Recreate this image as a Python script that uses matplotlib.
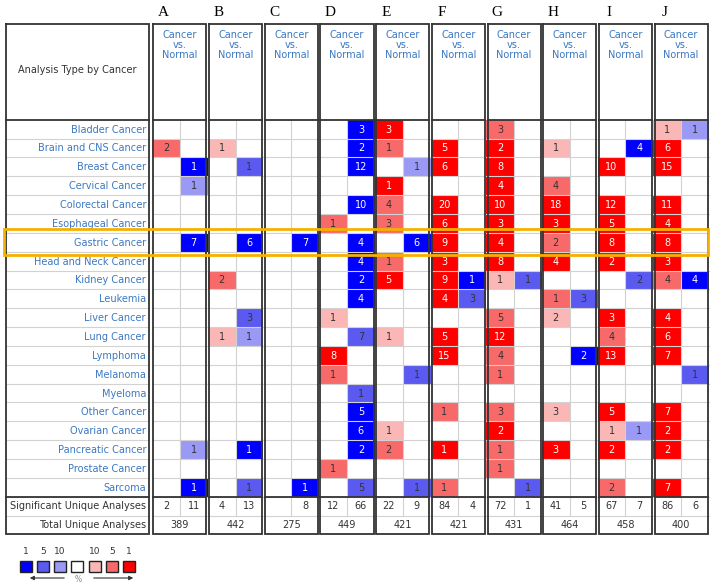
import matplotlib
matplotlib.use("Agg")
import matplotlib.pyplot as plt
from matplotlib.patches import Rectangle, FancyArrowPatch

groups = ["A", "B", "C", "D", "E", "F", "G", "H", "I", "J"]
cancers = ["Bladder Cancer", "Brain and CNS Cancer", "Breast Cancer", "Cervical Cancer",
           "Colorectal Cancer", "Esophageal Cancer", "Gastric Cancer", "Head and Neck Cancer",
           "Kidney Cancer", "Leukemia", "Liver Cancer", "Lung Cancer", "Lymphoma", "Melanoma",
           "Myeloma", "Other Cancer", "Ovarian Cancer", "Pancreatic Cancer", "Prostate Cancer",
           "Sarcoma"]

# over-expression (red) counts per cancer row, columns A..J (0 = no analysis)
up_counts = [
    [0, 0, 0, 0, 3, 0, 3, 0, 0, 1],
    [2, 1, 0, 0, 1, 5, 2, 1, 0, 6],
    [0, 0, 0, 0, 0, 6, 8, 0, 10, 15],
    [0, 0, 0, 0, 1, 0, 4, 4, 0, 0],
    [0, 0, 0, 0, 4, 20, 10, 18, 12, 11],
    [0, 0, 0, 1, 3, 6, 3, 3, 5, 4],
    [0, 0, 0, 0, 0, 9, 4, 2, 8, 8],
    [0, 0, 0, 0, 1, 3, 8, 4, 2, 3],
    [0, 2, 0, 0, 5, 9, 1, 0, 0, 4],
    [0, 0, 0, 0, 0, 4, 0, 1, 0, 0],
    [0, 0, 0, 1, 0, 0, 5, 2, 3, 4],
    [0, 1, 0, 0, 1, 5, 12, 0, 4, 6],
    [0, 0, 0, 8, 0, 15, 4, 0, 13, 7],
    [0, 0, 0, 1, 0, 0, 1, 0, 0, 0],
    [0, 0, 0, 0, 0, 0, 0, 0, 0, 0],
    [0, 0, 0, 0, 0, 1, 3, 3, 5, 7],
    [0, 0, 0, 0, 1, 0, 2, 0, 1, 2],
    [0, 0, 0, 0, 2, 1, 1, 3, 2, 2],
    [0, 0, 0, 1, 0, 0, 1, 0, 0, 0],
    [0, 0, 0, 0, 0, 1, 0, 0, 2, 7],
]
# gene rank percentile level of each red cell (1, 5, 10)
up_levels = [
    [0, 0, 0, 0, 1, 0, 5, 0, 0, 10],
    [5, 10, 0, 0, 5, 1, 1, 10, 0, 1],
    [0, 0, 0, 0, 0, 1, 1, 0, 1, 1],
    [0, 0, 0, 0, 1, 0, 1, 5, 0, 0],
    [0, 0, 0, 0, 5, 1, 1, 1, 1, 1],
    [0, 0, 0, 5, 5, 1, 1, 1, 1, 1],
    [0, 0, 0, 0, 0, 1, 1, 5, 1, 1],
    [0, 0, 0, 0, 5, 1, 1, 1, 1, 1],
    [0, 5, 0, 0, 1, 1, 10, 0, 0, 5],
    [0, 0, 0, 0, 0, 1, 0, 5, 0, 0],
    [0, 0, 0, 10, 0, 0, 5, 10, 1, 1],
    [0, 10, 0, 0, 10, 1, 1, 0, 5, 1],
    [0, 0, 0, 1, 0, 1, 5, 0, 1, 1],
    [0, 0, 0, 5, 0, 0, 5, 0, 0, 0],
    [0, 0, 0, 0, 0, 0, 0, 0, 0, 0],
    [0, 0, 0, 0, 0, 5, 5, 10, 1, 1],
    [0, 0, 0, 0, 10, 0, 1, 0, 10, 1],
    [0, 0, 0, 0, 5, 1, 5, 1, 1, 1],
    [0, 0, 0, 5, 0, 0, 5, 0, 0, 0],
    [0, 0, 0, 0, 0, 5, 0, 0, 5, 1],
]
# under-expression (blue) counts
down_counts = [
    [0, 0, 0, 3, 0, 0, 0, 0, 0, 1],
    [0, 0, 0, 2, 0, 0, 0, 0, 4, 0],
    [1, 1, 0, 12, 1, 0, 0, 0, 0, 0],
    [1, 0, 0, 0, 0, 0, 0, 0, 0, 0],
    [0, 0, 0, 10, 0, 0, 0, 0, 0, 0],
    [0, 0, 0, 0, 0, 0, 0, 0, 0, 0],
    [7, 6, 7, 4, 6, 0, 0, 0, 0, 0],
    [0, 0, 0, 4, 0, 0, 0, 0, 0, 0],
    [0, 0, 0, 2, 0, 1, 1, 0, 2, 4],
    [0, 0, 0, 4, 0, 3, 0, 3, 0, 0],
    [0, 3, 0, 0, 0, 0, 0, 0, 0, 0],
    [0, 1, 0, 7, 0, 0, 0, 0, 0, 0],
    [0, 0, 0, 0, 0, 0, 0, 2, 0, 0],
    [0, 0, 0, 0, 1, 0, 0, 0, 0, 1],
    [0, 0, 0, 1, 0, 0, 0, 0, 0, 0],
    [0, 0, 0, 5, 0, 0, 0, 0, 0, 0],
    [0, 0, 0, 6, 0, 0, 0, 0, 1, 0],
    [1, 1, 0, 2, 0, 0, 0, 0, 0, 0],
    [0, 0, 0, 0, 0, 0, 0, 0, 0, 0],
    [1, 1, 1, 5, 1, 0, 1, 0, 0, 0],
]
down_levels = [
    [0, 0, 0, 1, 0, 0, 0, 0, 0, 10],
    [0, 0, 0, 1, 0, 0, 0, 0, 1, 0],
    [1, 5, 0, 1, 10, 0, 0, 0, 0, 0],
    [10, 0, 0, 0, 0, 0, 0, 0, 0, 0],
    [0, 0, 0, 1, 0, 0, 0, 0, 0, 0],
    [0, 0, 0, 0, 0, 0, 0, 0, 0, 0],
    [1, 1, 1, 1, 1, 0, 0, 0, 0, 0],
    [0, 0, 0, 1, 0, 0, 0, 0, 0, 0],
    [0, 0, 0, 1, 0, 1, 5, 0, 5, 1],
    [0, 0, 0, 1, 0, 5, 0, 5, 0, 0],
    [0, 5, 0, 0, 0, 0, 0, 0, 0, 0],
    [0, 10, 0, 5, 0, 0, 0, 0, 0, 0],
    [0, 0, 0, 0, 0, 0, 0, 1, 0, 0],
    [0, 0, 0, 0, 5, 0, 0, 0, 0, 5],
    [0, 0, 0, 5, 0, 0, 0, 0, 0, 0],
    [0, 0, 0, 1, 0, 0, 0, 0, 0, 0],
    [0, 0, 0, 1, 0, 0, 0, 0, 10, 0],
    [10, 1, 0, 1, 0, 0, 0, 0, 0, 0],
    [0, 0, 0, 0, 0, 0, 0, 0, 0, 0],
    [1, 5, 1, 5, 5, 0, 5, 0, 0, 0],
]
sig_up = ["2", "4", "", "12", "22", "84", "72", "41", "67", "86"]
sig_down = ["11", "13", "8", "66", "9", "4", "1", "5", "7", "6"]
total_analyses = ["389", "442", "275", "449", "421", "421", "431", "464", "458", "400"]
legend_labels = ["1", "5", "10", "", "10", "5", "1"]
highlight_row = "Gastric Cancer"

red = {1: "#ff0000", 5: "#f86a6a", 10: "#fbb6b6"}
blue = {1: "#0000ff", 5: "#5a5af0", 10: "#9a9af6"}
link = "#3a78c2"
dark = "#333333"
fs = 7.0

fig = plt.figure(figsize=(7.11, 5.86), dpi=100)
ax = fig.add_axes([0, 0, 1, 1])
ax.set_xlim(0, 711)
ax.set_ylim(586, 0)
ax.axis("off")

# geometry (pixel units)
lab_l, lab_r = 6, 149
g0, gw = 152, 55.7
sw = gw / 2
head_t, head_b = 24, 119.7
rh = 18.85
body_b = head_b + rh * len(cancers)
sig_b = body_b + 18.8
tot_b = sig_b + 18.5

def gx(i):
    return g0 + i * gw

# cells
for r, name in enumerate(cancers):
    y0 = head_b + r * rh
    for g in range(len(groups)):
        for k, (cnts, lvls, pal) in enumerate([(up_counts, up_levels, red), (down_counts, down_levels, blue)]):
            c = cnts[r][g]
            if c:
                lv = lvls[r][g]
                x0 = gx(g) + k * sw
                ax.add_patch(Rectangle((x0, y0), sw, rh, facecolor=pal[lv], edgecolor="none", zorder=1))
                ax.text(x0 + sw / 2, y0 + rh / 2 + 0.5, str(c), ha="center", va="center", fontsize=fs,
                        color="white" if lv == 1 else dark, zorder=3)
    ax.text(lab_r - 3, y0 + rh / 2 + 0.5, name, ha="right", va="center", fontsize=fs, color=link, zorder=3)

# thin grid lines
for r in range(1, len(cancers) + 2):
    y = head_b + r * rh if r <= len(cancers) else sig_b
    ax.plot([lab_l, lab_r], [y, y], color="#d2d2d2", lw=0.8, zorder=2)
    for g in range(len(groups)):
        ax.plot([gx(g), gx(g + 1)], [y, y], color="#d2d2d2", lw=0.8, zorder=2)
for g in range(len(groups)):
    ax.plot([gx(g) + sw, gx(g) + sw], [head_b, sig_b], color="#d2d2d2", lw=0.8, zorder=2)

# bottom rows
ax.text(lab_r - 3, body_b + 9.6, "Significant Unique Analyses", ha="right", va="center", fontsize=fs, color=dark)
ax.text(lab_r - 3, sig_b + 9.4, "Total Unique Analyses", ha="right", va="center", fontsize=fs, color=dark)
for g in range(len(groups)):
    ax.text(gx(g) + sw / 2, body_b + 9.6, sig_up[g], ha="center", va="center", fontsize=fs, color=dark)
    ax.text(gx(g) + 1.5 * sw, body_b + 9.6, sig_down[g], ha="center", va="center", fontsize=fs, color=dark)
    ax.text(gx(g) + sw, sig_b + 9.4, total_analyses[g], ha="center", va="center", fontsize=fs, color=dark)

# header
ax.text((lab_l + lab_r) / 2, 70, "Analysis Type by Cancer", ha="center", va="center", fontsize=fs, color=dark)
for g, letter in enumerate(groups):
    ax.text(gx(g) + 11, 12, letter, ha="center", va="center", fontsize=11, family="Liberation Serif", color="black")
    for j, t in enumerate(["Cancer", "vs.", "Normal"]):
        ax.text(gx(g) + sw, 34.5 + j * 10.5, t, ha="center", va="center", fontsize=fs, color=link)

# thick borders: label box and group boxes (double-line look between groups)
def box(x0, x1):
    ax.plot([x0, x1, x1, x0, x0], [head_t, head_t, tot_b, tot_b, head_t], color=dark, lw=1.3, zorder=4,
            solid_joinstyle="miter")
    for y in (head_b, body_b):
        ax.plot([x0, x1], [y, y], color=dark, lw=1.3, zorder=4)

box(lab_l, lab_r)
for g in range(len(groups)):
    box(gx(g) + 1.3, gx(g + 1) - 1.3)

# highlight
hr = cancers.index(highlight_row)
ax.add_patch(Rectangle((4, head_b + hr * rh - 3.5), 704, rh + 7, facecolor="none", edgecolor="#f5b000",
                       lw=2.0, zorder=6))

# legend
leg_cols = [blue[1], blue[5], blue[10], "white", red[10], red[5], red[1]]
for i, (col, lab) in enumerate(zip(leg_cols, legend_labels)):
    lx = 19.5 + i * 17.3
    ax.add_patch(Rectangle((lx, 560.5), 12, 11.5, facecolor=col, edgecolor="#222222", lw=1.0, zorder=3))
    if lab:
        ax.text(lx + 6, 552, lab, ha="center", va="center", fontsize=6.5, color=dark)
ax.add_patch(FancyArrowPatch((67, 578), (27, 578), arrowstyle="-|>", mutation_scale=6, lw=0.8, color=dark))
ax.add_patch(FancyArrowPatch((91, 578), (136, 578), arrowstyle="-|>", mutation_scale=6, lw=0.8, color=dark))
ax.text(78, 579, "%", ha="center", va="center", fontsize=5.5, color="#888888")

fig.savefig("out.png", dpi=100)
